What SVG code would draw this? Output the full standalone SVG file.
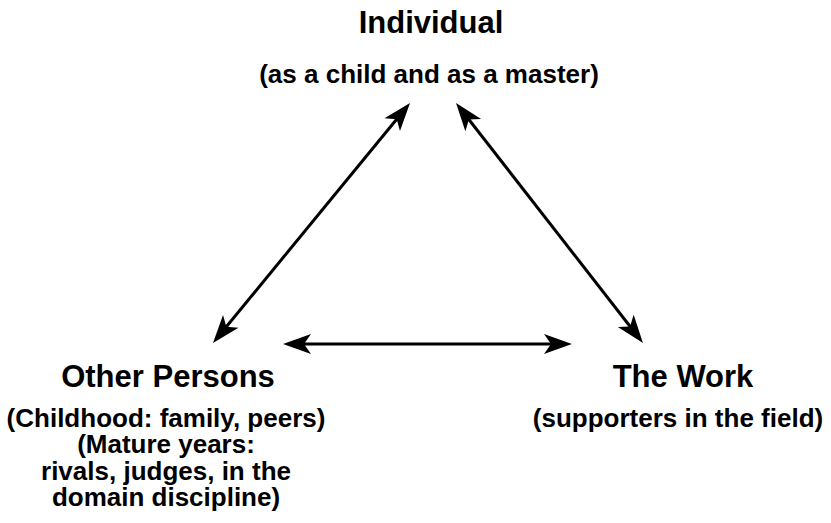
<svg xmlns="http://www.w3.org/2000/svg" width="831" height="523" viewBox="0 0 831 523">
<style>
text{font-family:"Liberation Sans",Arial,Helvetica,sans-serif;font-weight:bold;fill:#000;text-anchor:middle}
.t{font-size:31px}
.s{font-size:26px}
.c{stroke:#000;stroke-width:3;fill:none}
</style>
<defs>
<marker id="ah" markerUnits="userSpaceOnUse" viewBox="-20 -12 36 24" refX="0" refY="0" markerWidth="36" markerHeight="24" orient="auto-start-reverse" overflow="visible">
<path d="M12,0 L-16,-10 L-9,0 L-16,10 Z" fill="#000"/>
</marker>
</defs>
<rect width="831" height="523" fill="#fff"/>
<g id="connectors">
<line class="c" x1="220.6" y1="333.7" x2="402.4" y2="112.3" marker-start="url(#ah)" marker-end="url(#ah)"/>
<line class="c" x1="463.4" y1="112.5" x2="635.6" y2="333.5" marker-start="url(#ah)" marker-end="url(#ah)"/>
<line class="c" x1="295" y1="344" x2="560" y2="344" marker-start="url(#ah)" marker-end="url(#ah)"/>
</g>
<g id="individual">
<text class="t" x="431" y="33">Individual</text>
<text class="s" x="429" y="83">(as a child and as a master)</text>
</g>
<g id="other-persons">
<text class="t" x="168" y="387">Other Persons</text>
<text class="s" x="166" y="427">(Childhood: family, peers)</text>
<text class="s" x="166" y="453">(Mature years:</text>
<text class="s" x="166" y="480">rivals, judges, in the</text>
<text class="s" x="166" y="506">domain discipline)</text>
</g>
<g id="the-work">
<text class="t" x="683" y="387">The Work</text>
<text class="s" x="678" y="427">(supporters in the field)</text>
</g>
</svg>
